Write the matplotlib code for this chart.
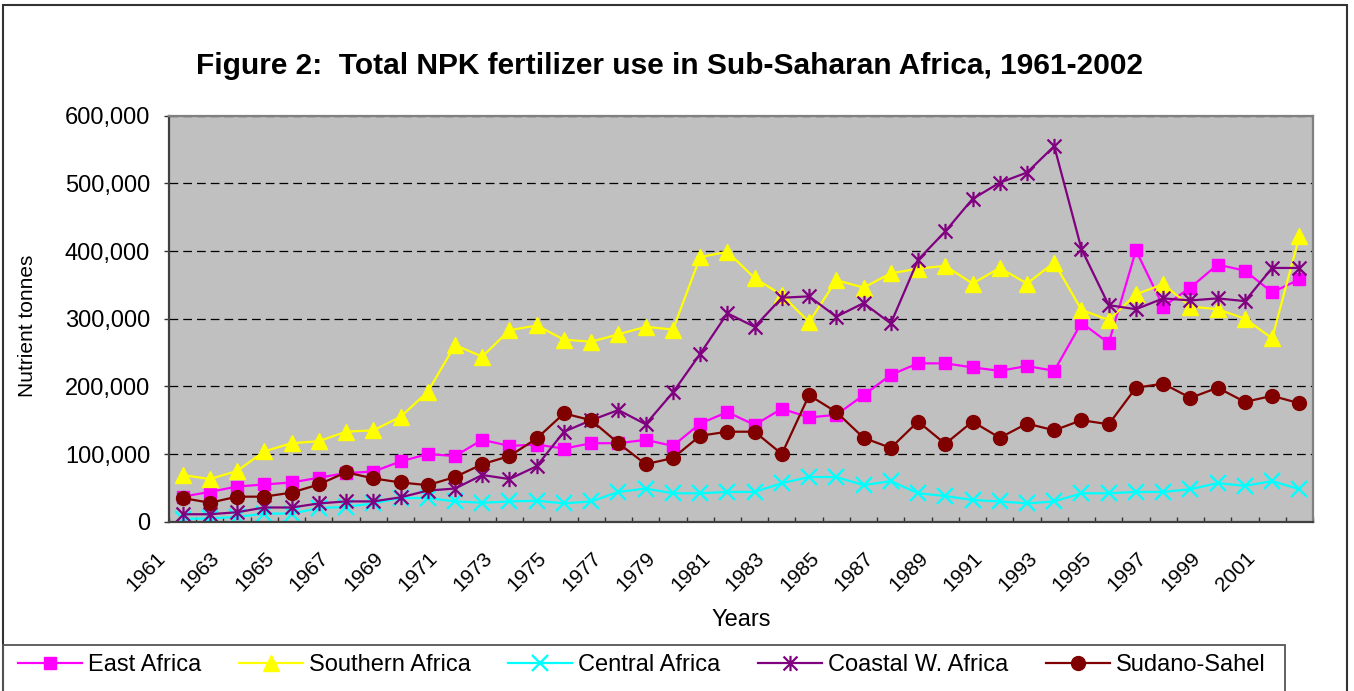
import matplotlib
matplotlib.use("Agg")
import matplotlib.pyplot as plt
from matplotlib.path import Path
from matplotlib.patches import Rectangle
from matplotlib.ticker import FuncFormatter
from matplotlib.transforms import ScaledTranslation
import numpy as np

plt.rcParams["font.family"] = ["Liberation Sans", "DejaVu Sans"]

# Data (thousand tonnes)
years = list(range(1961, 2003))
east_africa = [37, 44, 52, 55, 58, 65, 72, 74, 89, 100,
               97, 121, 112, 114, 108, 116, 116, 121, 112, 145,
               162, 143, 167, 154, 158, 187, 217, 234, 234, 228,
               223, 230, 223, 294, 264, 401, 318, 346, 380, 371,
               339, 358]
southern_africa = [69, 63, 75, 104, 116, 119, 133, 135, 155, 192,
                   261, 244, 283, 290, 269, 266, 277, 288, 284, 391,
                   399, 360, 335, 295, 357, 346, 367, 374, 378, 352,
                   375, 352, 383, 313, 298, 336, 351, 318, 314, 300,
                   271, 422]
central_africa = [4, 5, 7, 12, 12, 20, 22, 27, 35, 35,
                  30, 28, 30, 31, 27, 30, 44, 49, 42, 42,
                  44, 44, 57, 66, 66, 54, 60, 42, 38, 32,
                  30, 27, 30, 42, 42, 44, 44, 48, 57, 53,
                  60, 48]
coastal_w_africa = [11, 11, 14, 21, 21, 27, 30, 30, 36, 46,
                    49, 69, 63, 82, 133, 150, 165, 144, 191, 248,
                    308, 288, 331, 333, 303, 323, 293, 387, 429, 477,
                    501, 516, 555, 403, 320, 314, 330, 327, 330, 326,
                    375, 375]
sudano_sahel = [35, 28, 37, 37, 43, 55, 73, 64, 58, 54,
                66, 85, 97, 123, 160, 150, 116, 85, 94, 127,
                133, 133, 100, 187, 162, 124, 109, 148, 115, 148,
                124, 145, 135, 150, 144, 198, 204, 183, 198, 177,
                186, 175]

W, H = 1354, 691
fig = plt.figure(figsize=(W / 100, H / 100), dpi=100)
ax = fig.add_axes([169 / W, 1 - 521.7 / H, (1313 - 169) / W, (521.7 - 115.7) / H])
ax.set_facecolor("#C0C0C0")
ax.set_axisbelow(True)

# Excel style star marker: an X with a vertical bar
star = Path([(-1, -1), (1, 1), (-1, 1), (1, -1), (0, -1.1), (0, 1.1)],
            [Path.MOVETO, Path.LINETO] * 3)

series = [
    ("East Africa", east_africa, "#FF00FF", "s", 9, 1),
    ("Southern Africa", southern_africa, "#FFFF00", "^", 11, 1),
    ("Central Africa", central_africa, "#00FFFF", "x", 11, 1.7),
    ("Coastal W. Africa", coastal_w_africa, "#800080", star, 11, 1.6),
    ("Sudano-Sahel", sudano_sahel, "#800000", "o", 10, 1),
]
for name, vals, col, mk, ms, mew in series:
    ax.plot(years, np.array(vals) * 1000, color=col, lw=1.6, marker=mk,
            ms=ms, mew=mew, mfc=col, mec=col, label=name)

ax.set_xlim(1960.5, 2002.5)
ax.set_ylim(0, 600000)
ax.set_yticks(range(0, 600001, 100000))
ax.yaxis.set_major_formatter(FuncFormatter(lambda v, p: f"{v:,.0f}"))
ax.yaxis.grid(True, color="black", linestyle=(0, (7, 4)), linewidth=0.9)

ax.set_xticks(years[::2])
ax.set_xticklabels([str(y) for y in years[::2]])
ax.set_xticks(np.arange(1960.5, 2003, 1), minor=True)
ax.tick_params(axis="x", which="major", length=0, pad=19, labelsize=15)
ax.tick_params(axis="x", which="minor", direction="in", length=3.6,
               width=1, color="#333333")
ax.tick_params(axis="y", direction="out", length=3.6, width=1,
               color="#333333", pad=10, labelsize=17)
shift = ScaledTranslation(-27 / 100, 0, fig.dpi_scale_trans)
for lab in ax.get_xticklabels():
    lab.set_rotation(45)
    lab.set_ha("right")
    lab.set_va("top")
    lab.set_rotation_mode("anchor")
    lab.set_transform(lab.get_transform() + shift)

for side in ["left", "bottom"]:
    ax.spines[side].set_color("#404040")
    ax.spines[side].set_linewidth(1.6)
for side in ["top", "right"]:
    ax.spines[side].set_color("#808080")
    ax.spines[side].set_linewidth(1.6)

ax.set_xlabel("Years", fontsize=17)
ax.xaxis.set_label_coords(0.5, -0.215)
ax.set_ylabel("Nutrient tonnes", fontsize=15)
ax.yaxis.set_label_coords(-0.1158, 0.482)

fig.text(670 / W, 1 - 66 / H,
         "Figure 2:  Total NPK fertilizer use in Sub-Saharan Africa, 1961-2002",
         ha="center", va="center", fontsize=21.5, fontweight="bold")

# outer chart frame and legend box
fig.add_artist(Rectangle((3 / W, -0.1), (1347 - 3) / W, 1.1 - 5 / H,
                         transform=fig.transFigure, fill=False,
                         ec="#333333", lw=1.5))
fig.add_artist(Rectangle((3 / W, -0.1), (1285 - 3) / W, 1.1 - 645 / H,
                         transform=fig.transFigure, fill=False,
                         ec="#555555", lw=1.3))

handles, labels = ax.get_legend_handles_labels()
fig.legend(handles, labels, loc="center left",
           bbox_to_anchor=(18 / W, 1 - 665 / H), ncol=5, frameon=False,
           fontsize=17, handlelength=2.71, handletextpad=0.25,
           columnspacing=1.6, borderpad=0, borderaxespad=0)

fig.savefig("out.png", dpi=100)
